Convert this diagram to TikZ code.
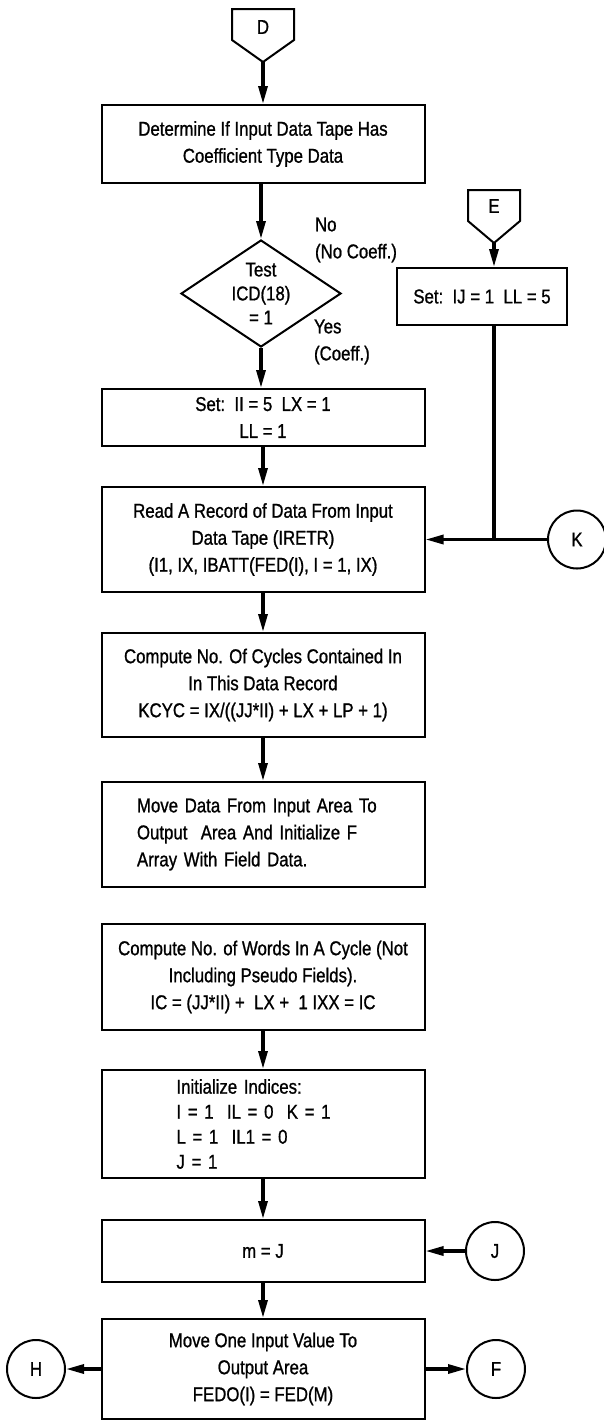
\documentclass[tikz,border=0pt]{standalone}
\usepackage{fontspec}
\setmainfont{Liberation Sans}[FakeStretch=0.84,FakeBold=1]
\usetikzlibrary{arrows.meta,shapes.geometric}

\begin{document}
\begin{tikzpicture}[
  x=0.5pt, y=-0.5pt,
  font=\fontsize{10}{13.5}\selectfont,
  box/.style={draw, line width=1pt, minimum width=161.5pt, inner sep=2pt, align=center},
  flow/.style={line width=1.6pt, -{Triangle[length=9pt,width=4.5pt]}},
  conn/.style={draw, circle, line width=1pt, minimum size=29pt, inner sep=0pt},
  offpg/.style={line width=1pt, line join=miter}
]
  \useasboundingbox (0,0) rectangle (604,1421);
  \node (D) at (263,27) {D};
  \draw[offpg] (232,9) -- (294,9) -- (294,40) -- (263,62) -- (232,40) -- cycle;
  \coordinate (Dtip) at (263,62);
  \node[box, minimum height=39pt] (det) at (263,144) {Determine If Input Data Tape Has\\Coefficient Type Data};
  \node[draw, diamond, line width=1pt, aspect=1.3, minimum width=80pt, inner sep=0pt, align=center,
    font=\fontsize{10}{12}\selectfont] (test) at (261,293.5) {Test\\ICD(18)\\= 1};
  \node[align=left, anchor=west] (nolab) at (308,240) {No\\(No Coeff.)};
  \node[align=left, anchor=west] (yeslab) at (307,342) {Yes\\(Coeff.)};
  \node[box, minimum height=28.5pt] (setII) at (263,417.5) {Set:\ \ II = 5\ \ LX = 1\\LL = 1};
  \node[box, minimum height=52.5pt] (read) at (263,539.5)
    {Read A Record of Data From Input\\Data Tape (IRETR)\\(I1, IX, IBATT(FED(I), I = 1, IX)};
  \node[box, minimum height=52pt] (comp) at (263,685)
    {Compute No. Of Cycles Contained In\\In This Data Record\\KCYC = IX/((JJ*II) + LX + LP + 1)};
  \node[box, minimum height=52.5pt, text width=126pt, align=left] (move) at (263,834.5)
    {Move Data From Input Area To\\Output\ \ Area And Initialize F\\Array With Field Data.};
  \node[box, minimum height=53pt] (words) at (263,977)
    {Compute No. of Words In A Cycle (Not\\Including Pseudo Fields).\\IC = (JJ*II) + \ LX + \ 1 IXX = IC};
  \node[box, minimum height=54pt, text width=86.5pt, align=left, font=\fontsize{10}{12.5}\selectfont] (init) at (263,1124)
    {Initialize Indices:\\I = 1\ \ IL = 0\ \ K = 1\\L = 1\ \ IL1 = 0\\J = 1};
  \node[box, minimum height=31pt] (mJ) at (263,1251) {m = J};
  \node[box, minimum height=50pt] (one) at (263,1369)
    {Move One Input Value To\\Output Area\\FEDO(I) = FED(M)};
  \node (E) at (494,206) {E};
  \draw[offpg] (468,190) -- (520,190) -- (520,221) -- (494,243) -- (468,221) -- cycle;
  \coordinate (Etip) at (494,243);
  \node[box, minimum width=85pt, minimum height=28.5pt] (setIJ) at (482,296.5) {Set:\ \ IJ = 1\ \ LL = 5};
  \coordinate (kjoin) at (494,539.5);
  \node[conn] (K) at (577,539.5) {K};
  \node[conn] (J) at (495,1251) {J};
  \node[conn] (H) at (36,1369) {H};
  \node[conn] (F) at (496,1369) {F};
  \draw[flow] (Dtip) -- (det);
  \draw[flow] (det.south -| test) -- (test);
  \draw[flow] (test) -- (setII.north -| test);
  \draw[flow] (setII) -- (read);
  \draw[flow] (read) -- (comp);
  \draw[flow] (comp) -- (move);
  \draw[flow] (words) -- (init);
  \draw[flow] (init) -- (mJ);
  \draw[flow] (mJ) -- (one);
  \draw[flow] (Etip) -- (Etip |- setIJ.north);
  \draw[line width=1.6pt] (Etip |- setIJ.south) -- (kjoin);
  \draw[flow] (K) -- (read);
  \draw[flow] (J) -- (mJ);
  \draw[flow] (one) -- (H);
  \draw[flow] (one) -- (F);
\end{tikzpicture}
\end{document}
